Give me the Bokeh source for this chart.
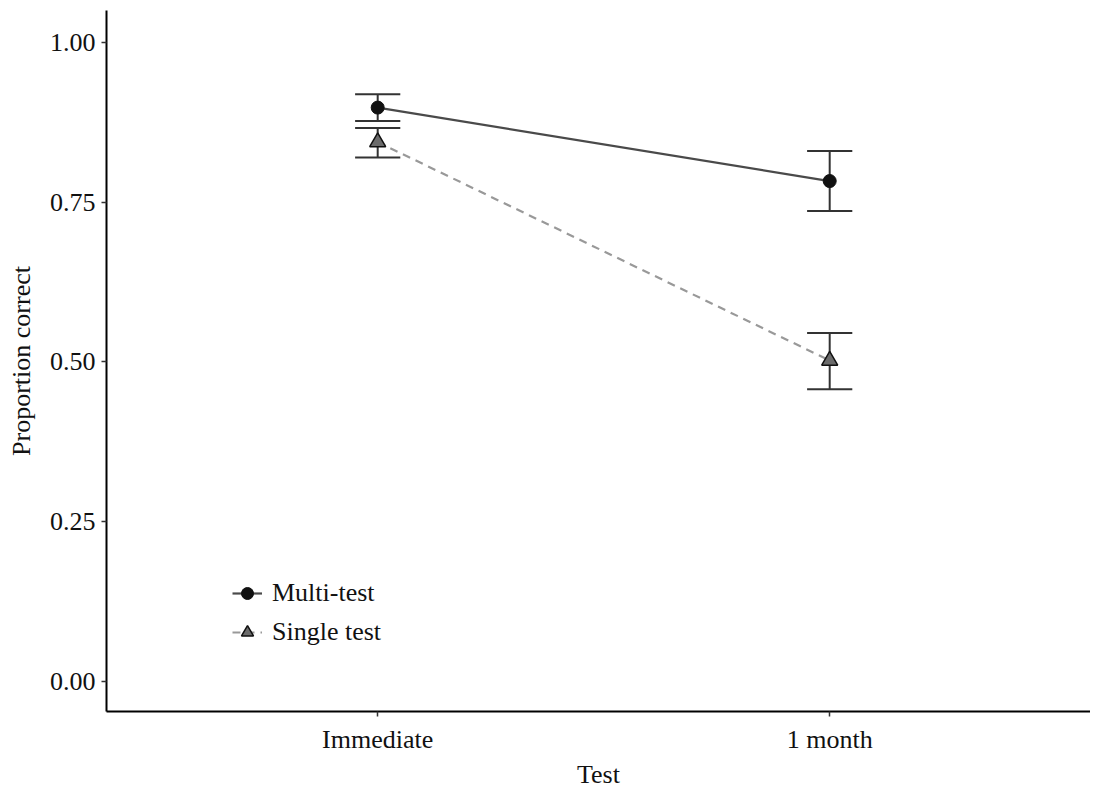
from bokeh.plotting import figure
from bokeh.models import FixedTicker, PrintfTickFormatter, Legend, LegendItem, Range1d
from bokeh.embed import file_html
from bokeh.resources import INLINE

# ---- data ----
tests = ["Immediate", "1 month"]
multi_mean = [0.898, 0.783]
multi_lower = [0.877, 0.736]
multi_upper = [0.919, 0.830]
single_mean = [0.844, 0.502]
single_lower = [0.820, 0.457]
single_upper = [0.866, 0.545]
y_ticks = [0.0, 0.25, 0.5, 0.75, 1.0]

xs = [i + 1 for i in range(len(tests))]
FONT = "Liberation Serif"
FS = "26px"
CAP = 0.05

p = figure(frame_width=984, frame_height=701, output_backend="svg", toolbar_location=None,
           x_range=Range1d(0.4, 2.577), y_range=Range1d(-0.0475, 1.05),
           min_border_left=106, min_border_right=0, min_border_top=10, min_border_bottom=70,
           background_fill_color="white", border_fill_color="white")
p.outline_line_color = None
p.grid.visible = False

# lines
l1 = p.line(xs, multi_mean, line_color="#4a4a4a", line_width=2.2)
l2 = p.line(xs, single_mean, line_color="#999999", line_width=2.2, line_dash="8 6")

# error bars
for lo, hi in ((multi_lower, multi_upper), (single_lower, single_upper)):
    p.segment(x0=xs, y0=lo, x1=xs, y1=hi, line_color="#333333", line_width=2)
    p.segment(x0=[x - CAP for x in xs], y0=hi, x1=[x + CAP for x in xs], y1=hi,
              line_color="#333333", line_width=2)
    p.segment(x0=[x - CAP for x in xs], y0=lo, x1=[x + CAP for x in xs], y1=lo,
              line_color="#333333", line_width=2)

# points
s1 = p.scatter(xs, multi_mean, marker="circle", size=13, fill_color="#111111",
               line_color="#111111", line_width=1)
s2 = p.scatter(xs, single_mean, marker="triangle", size=16, fill_color="#6b6b6b",
               line_color="#111111", line_width=1.5)

# axes
p.xaxis.ticker = FixedTicker(ticks=xs)
p.xaxis.major_label_overrides = {x: t for x, t in zip(xs, tests)}
p.yaxis.ticker = FixedTicker(ticks=y_ticks)
p.yaxis.formatter = PrintfTickFormatter(format="%.2f")
p.xaxis.axis_label = "Test"
p.yaxis.axis_label = "Proportion correct"
for ax in (p.xaxis[0], p.yaxis[0]):
    ax.axis_line_color = "black"
    ax.axis_line_width = 2
    ax.major_tick_line_color = "#333333"
    ax.major_tick_line_width = 1.5
    ax.major_tick_out = 5
    ax.major_tick_in = 0
    ax.minor_tick_line_color = None
    ax.major_label_text_font = FONT
    ax.major_label_text_font_size = FS
    ax.major_label_text_color = "#111111"
    ax.axis_label_text_font = FONT
    ax.axis_label_text_font_size = FS
    ax.axis_label_text_font_style = "normal"
    ax.axis_label_text_color = "#111111"
p.yaxis.major_label_standoff = 6
p.xaxis.major_label_standoff = 8
p.yaxis.axis_label_standoff = 11
p.xaxis.axis_label_standoff = 3

legend = Legend(items=[LegendItem(label="Multi-test", renderers=[l1, s1]),
                       LegendItem(label="Single test", renderers=[l2, s2])],
                location=(126, 64), padding=0, margin=0, spacing=9,
                glyph_width=30, glyph_height=30, label_height=30, label_standoff=10,
                border_line_alpha=0, background_fill_alpha=0,
                label_text_font=FONT, label_text_font_size=FS, label_text_color="#111111")
p.add_layout(legend)

open("out.html", "w").write(file_html(p, INLINE))
